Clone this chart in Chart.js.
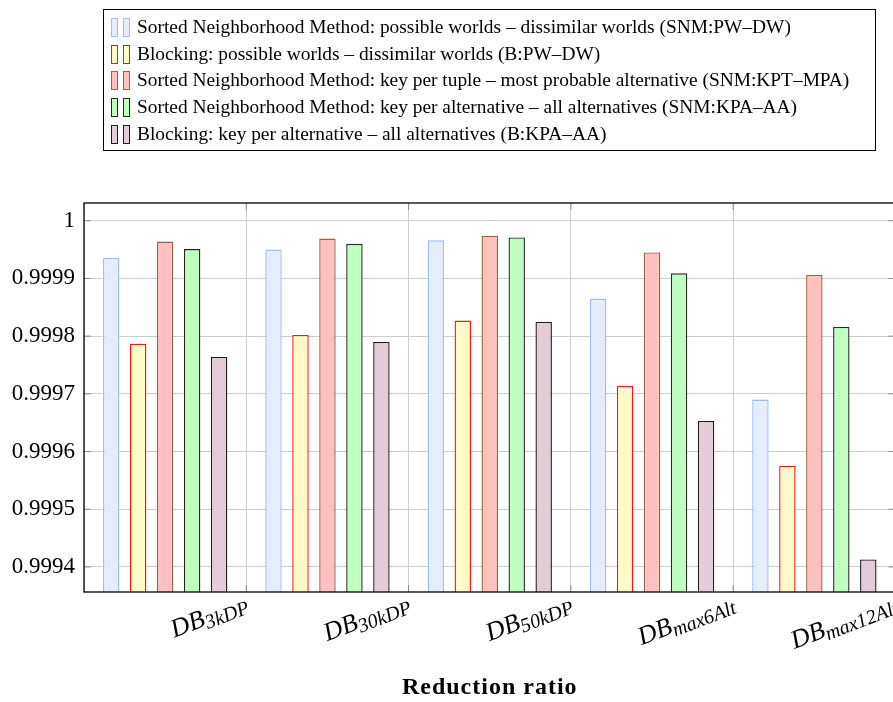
<!DOCTYPE html>
<html>
<head>
<meta charset="utf-8">
<script src="https://cdn.jsdelivr.net/npm/chart.js@4"></script>
<style>
  body { margin: 0; background: #fff; overflow: hidden; }
  #wrap { position: relative; width: 893px; height: 702px; overflow: hidden; }
  #chart { position: absolute; left: 0; top: 0; }
  #legend {
    position: absolute; left: 103px; top: 9px; width: 773px; height: 142px;
    border: 1px solid #000; box-sizing: border-box;
    font-family: 'Liberation Serif', serif; font-size: 19.4px; color: #000;
    padding-top: 4px;
  }
  .row { height: 26.7px; line-height: 26.7px; white-space: nowrap; position: relative; padding-left: 33px; }
  .ico { position: absolute; top: 4px; width: 5px; height: 17px; border: 1px solid; }
</style>
</head>
<body>
<div id="wrap">
  <canvas id="chart" width="897" height="702"></canvas>
  <div id="legend"></div>
</div>
<script>
// categories (drawn as DB with the subscript)
const catPrefix = 'DB';
const categories = ['3kDP', '30kDP', '50kDP', 'max6Alt', 'max12Alt'];

// reduction ratio per method
const snmPwDw   = [0.999936, 0.999950, 0.999966, 0.999865, 0.999690];
const bPwDw     = [0.999787, 0.999802, 0.999827, 0.999714, 0.999575];
const snmKptMpa = [0.999964, 0.999969, 0.999974, 0.999945, 0.999906];
const snmKpaAa  = [0.999951, 0.999960, 0.999971, 0.999909, 0.999816];
const bKpaAa    = [0.999764, 0.999790, 0.999825, 0.999653, 0.999413];

const seriesNames = [
  'Sorted Neighborhood Method: possible worlds \u2013 dissimilar worlds (SNM:PW\u2013DW)',
  'Blocking: possible worlds \u2013 dissimilar worlds (B:PW\u2013DW)',
  'Sorted Neighborhood Method: key per tuple \u2013 most probable alternative (SNM:KPT\u2013MPA)',
  'Sorted Neighborhood Method: key per alternative \u2013 all alternatives (SNM:KPA\u2013AA)',
  'Blocking: key per alternative \u2013 all alternatives (B:KPA\u2013AA)'
];

const yTicks = [0.9994, 0.9995, 0.9996, 0.9997, 0.9998, 0.9999, 1];
const yTickLabels = ['0.9994', '0.9995', '0.9996', '0.9997', '0.9998', '0.9999', '1'];

const fills   = ['rgb(229,236,250)', 'rgb(255,250,200)', 'rgb(255,192,192)', 'rgb(192,255,192)', 'rgb(227,204,216)'];
const borders = ['rgb(160,190,240)', 'rgb(255,20,20)', 'rgb(150,100,70)', 'rgb(40,40,40)', 'rgb(30,30,30)'];

const allSeries = [snmPwDw, bPwDw, snmKptMpa, snmKpaAa, bKpaAa];

// legend with the double bar icons
const legend = document.getElementById('legend');
seriesNames.forEach((name, i) => {
  const row = document.createElement('div');
  row.className = 'row';
  [7, 19].forEach(left => {
    const ico = document.createElement('span');
    ico.className = 'ico';
    ico.style.left = left + 'px';
    ico.style.background = fills[i];
    ico.style.borderColor = borders[i];
    row.appendChild(ico);
  });
  row.appendChild(document.createTextNode(name));
  legend.appendChild(row);
});

// frame, inner tick marks, rotated category labels, axis title
const decorations = {
  id: 'decorations',
  afterDraw(chart) {
    const ctx = chart.ctx;
    const a = chart.chartArea;
    const xs = chart.scales.x, ys = chart.scales.y;
    ctx.save();
    ctx.strokeStyle = 'rgb(140,140,140)';
    ctx.lineWidth = 1;
    ctx.beginPath();
    yTicks.forEach(v => {
      const y = ys.getPixelForValue(v);
      ctx.moveTo(a.left, y); ctx.lineTo(a.left + 7, y);
      ctx.moveTo(a.right, y); ctx.lineTo(a.right - 7, y);
    });
    for (let i = 1; i < categories.length; i++) {
      const x = (xs.getPixelForValue(i - 1) + xs.getPixelForValue(i)) / 2;
      ctx.moveTo(x, a.top); ctx.lineTo(x, a.top + 7);
      ctx.moveTo(x, a.bottom); ctx.lineTo(x, a.bottom - 7);
    }
    ctx.stroke();

    ctx.strokeStyle = '#000';
    ctx.lineWidth = 1.3;
    ctx.strokeRect(a.left, a.top, a.right - a.left, a.bottom - a.top);

    ctx.fillStyle = '#000';
    ctx.textBaseline = 'alphabetic';
    categories.forEach((sub, i) => {
      const x = xs.getPixelForValue(i);
      ctx.save();
      ctx.translate(x + 84, 609);
      ctx.rotate(-21 * Math.PI / 180);
      ctx.font = 'italic 26px "Liberation Serif"';
      const w1 = ctx.measureText(catPrefix).width;
      ctx.font = 'italic 20px "Liberation Serif"';
      const w2 = ctx.measureText(sub).width;
      ctx.textAlign = 'left';
      ctx.font = 'italic 26px "Liberation Serif"';
      ctx.fillText(catPrefix, -(w1 + w2), 0);
      ctx.font = 'italic 20px "Liberation Serif"';
      ctx.fillText(sub, -w2, 4);
      ctx.restore();
    });

    ctx.font = 'bold 24px "Liberation Serif"';
    ctx.letterSpacing = '1px';
    ctx.textAlign = 'center';
    ctx.textBaseline = 'middle';
    ctx.fillText('Reduction ratio', (a.left + a.right) / 2, 688);
    ctx.restore();
  }
};

new Chart(document.getElementById('chart'), {
  type: 'bar',
  data: {
    labels: categories,
    datasets: allSeries.map((vals, i) => ({
      label: seriesNames[i],
      data: vals,
      backgroundColor: fills[i],
      borderColor: borders[i],
      borderWidth: 1.4,
      borderSkipped: false,
      categoryPercentage: 0.831,
      barPercentage: 0.61
    }))
  },
  options: {
    responsive: false,
    animation: false,
    layout: { padding: { top: 203, bottom: 110, left: 0, right: 1.5 } },
    plugins: { legend: { display: false }, tooltip: { enabled: false } },
    scales: {
      x: {
        offset: true,
        ticks: { display: false },
        border: { display: false },
        grid: { offset: true, color: 'rgb(205,205,205)', drawTicks: false },
        afterFit(scale) { scale.height = 0; }
      },
      y: {
        min: 0.9993566,
        max: 1.0000307,
        border: { display: false },
        grid: { color: 'rgb(205,205,205)', drawTicks: false },
        ticks: {
          color: '#000',
          padding: 9,
          font: { family: 'Liberation Serif', size: 23 },
          callback: (v) => {
            const k = yTicks.findIndex(t => Math.abs(t - v) < 1e-9);
            return k >= 0 ? yTickLabels[k] : '';
          }
        },
        afterBuildTicks(scale) { scale.ticks = yTicks.map(v => ({ value: v })); },
        afterFit(scale) { scale.width = 84; }
      }
    }
  },
  plugins: [decorations]
});
</script>
</body>
</html>
